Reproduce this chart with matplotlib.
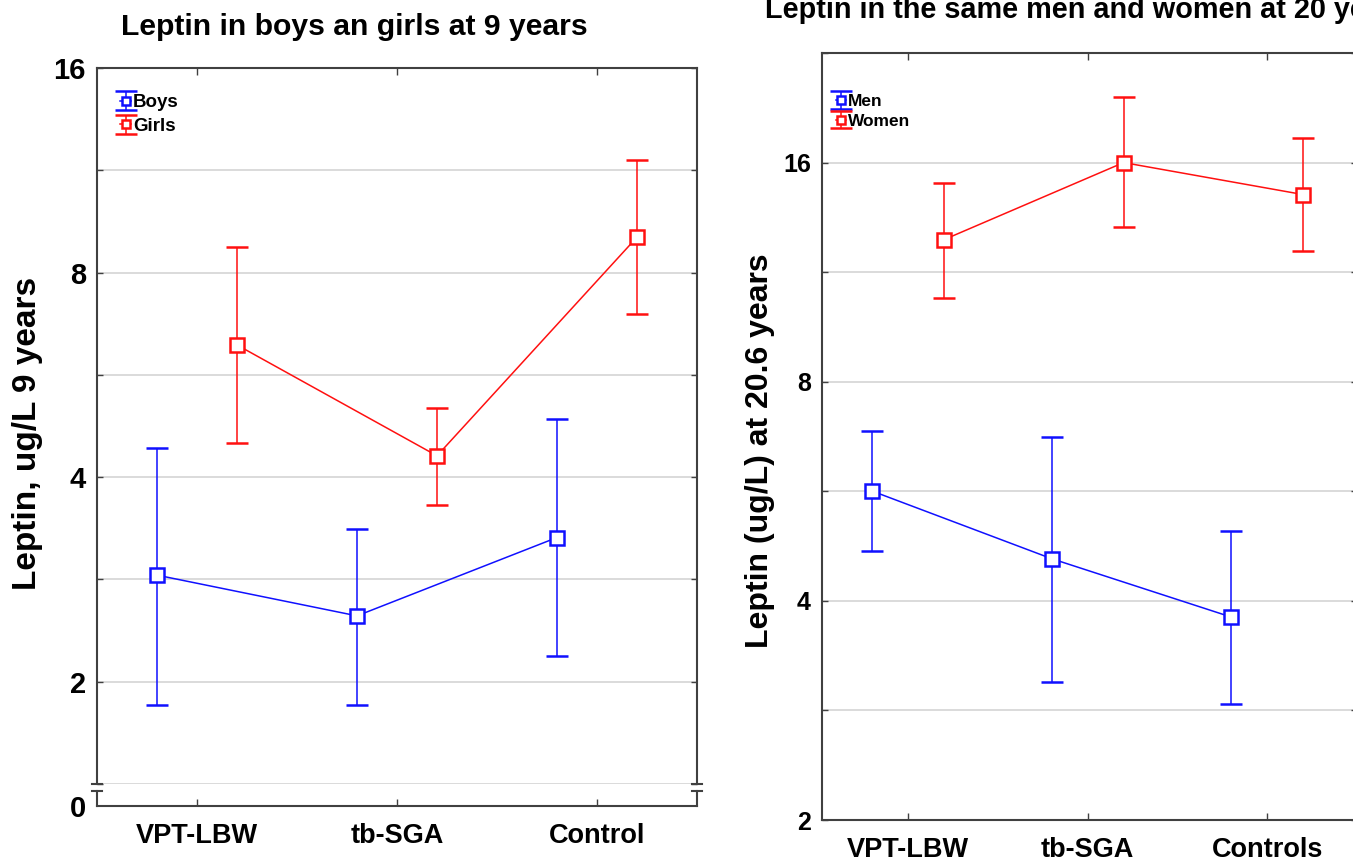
import numpy as np
import matplotlib.pyplot as plt
from matplotlib.lines import Line2D
from matplotlib.ticker import FixedLocator, NullFormatter

plt.rcParams['font.family'] = ['Liberation Sans', 'DejaVu Sans']
plt.rcParams['font.weight'] = 'bold'

# ---- data ----
groups_9 = ["VPT-LBW", "tb-SGA", "Control"]
boys_mean = [2.87, 2.50, 3.26]
boys_lo = [1.85, 1.85, 2.18]
boys_hi = [4.41, 3.35, 4.87]
girls_mean = [6.26, 4.30, 9.02]
girls_lo = [4.49, 3.64, 6.95]
girls_hi = [8.72, 5.05, 11.7]

groups_20 = ["VPT-LBW", "tb-SGA", "Controls"]
men_mean = [5.66, 4.57, 3.80]
men_lo = [4.69, 3.09, 2.89]
men_hi = [6.85, 6.72, 4.99]
women_mean = [12.54, 16.0, 14.46]
women_lo = [10.44, 13.07, 12.11]
women_hi = [15.02, 19.66, 17.32]

major_9 = [2, 4, 8, 16]
major_20 = [2, 4, 8, 16]

W, H = 1353, 861
SPINE = "#404040"
GRID = "#d4d4d4"
BLUE = "#1010ff"
RED = "#ff1010"


def box(l, t, r, b):
    return [l / W, 1 - b / H, (r - l) / W, (b - t) / H]


def series(ax, mean, lo, hi, offset, color, label):
    x = np.arange(len(mean)) + offset
    mean = np.array(mean)
    err = [mean - np.array(lo), np.array(hi) - mean]
    return ax.errorbar(x, mean, yerr=err, color=color, lw=1.1,
                       marker="s", ms=10, mfc="white", mec=color, mew=1.8,
                       ecolor=color, elinewidth=1.1, capsize=8, capthick=1.1,
                       label=label, zorder=3)


def style_log_axis(ax, majors, lo, hi, fs):
    ax.set_yscale("log", base=2)
    ax.set_ylim(lo, hi)
    ax.yaxis.set_major_locator(FixedLocator(majors))
    ax.set_yticklabels([str(m) for m in majors], fontsize=fs, fontweight="bold")
    minors = [m / np.sqrt(2) for m in majors] + [majors[-1] * np.sqrt(2)]
    ax.yaxis.set_minor_locator(FixedLocator(minors))
    ax.yaxis.set_minor_formatter(NullFormatter())
    ax.grid(True, axis="y", which="both", color=GRID, lw=1.2, zorder=0)
    ax.tick_params(axis="y", which="both", direction="in", left=True, right=True,
                   length=4, width=1, color=SPINE, pad=8)
    for sp in ax.spines.values():
        sp.set_color(SPINE)
        sp.set_linewidth(1.5)


def legend(ax, left_px, top_px, size, spacing, ax_l, ax_t, ax_w, ax_h):
    ax.legend(loc="upper left", frameon=False, markerscale=0.6,
              handlelength=0.6, handletextpad=0.1, labelspacing=spacing,
              borderaxespad=0, borderpad=0,
              bbox_to_anchor=((left_px - ax_l) / ax_w, 1 - (top_px - ax_t) / ax_h),
              prop={"weight": "bold", "size": size})


fig = plt.figure(figsize=(W / 100, H / 100), dpi=100)

# ---------------- left panel ----------------
ax1 = fig.add_axes(box(97, 68, 697, 784))
ax1b = fig.add_axes(box(97, 791, 697, 806), sharex=ax1)

series(ax1, boys_mean, boys_lo, boys_hi, -0.2, BLUE, "Boys")
series(ax1, girls_mean, girls_lo, girls_hi, 0.2, RED, "Girls")
style_log_axis(ax1, major_9, 2 / np.sqrt(2), 16, 21)
ax1.set_xlim(-0.5, 2.5)
ax1.set_xticks(range(3))
ax1.tick_params(axis="x", direction="in", top=True, bottom=False,
                labelbottom=False, length=5, width=1, color=SPINE)
ax1.spines["bottom"].set_visible(False)
ax1.set_ylabel("Leptin, ug/L 9 years", fontsize=24, fontweight="bold")
ax1.yaxis.set_label_coords(-0.09, 0.49)
legend(ax1, 120, 94, 13.5, 0.35, 97, 68, 600, 716)

ax1b.set_ylim(0, 1)
ax1b.set_yticks([0])
ax1b.set_yticklabels(["0"], fontsize=21, fontweight="bold")
ax1b.tick_params(axis="y", length=0, pad=8)
ax1b.set_xticks(range(3))
ax1b.set_xticklabels(groups_9, fontsize=19.5, fontweight="bold")
ax1b.tick_params(axis="x", direction="in", length=5, width=1, color=SPINE, pad=12)
ax1b.spines["top"].set_visible(False)
for sp in ["left", "right", "bottom"]:
    ax1b.spines[sp].set_color(SPINE)
    ax1b.spines[sp].set_linewidth(1.5)

# break marks
for xs in (97, 697):
    for ys in (784, 791):
        fig.add_artist(Line2D([(xs - 5) / W, (xs + 5) / W], [1 - ys / H, 1 - ys / H],
                              color=SPINE, lw=1.5))

fig.text(354 / W, 1 - 27 / H, "Leptin in boys an girls at 9 years",
         ha="center", va="center", fontsize=21.7, fontweight="bold")

# ---------------- right panel ----------------
ax2 = fig.add_axes(box(822, 53, 1357, 820))
series(ax2, men_mean, men_lo, men_hi, -0.2, BLUE, "Men")
series(ax2, women_mean, women_lo, women_hi, 0.2, RED, "Women")
style_log_axis(ax2, major_20, 2, 16 * np.sqrt(2), 18)
ax2.set_xlim(-0.48, 2.5)
ax2.set_xticks(range(3))
ax2.set_xticklabels(groups_20, fontsize=19.5, fontweight="bold")
ax2.tick_params(axis="x", direction="in", top=True, bottom=True,
                length=5, width=1, color=SPINE, pad=12)
ax2.set_ylabel("Leptin (ug/L) at 20.6 years", fontsize=23, fontweight="bold")
ax2.yaxis.set_label_coords(-0.088, 0.481)
legend(ax2, 836, 94, 12.5, 0.25, 822, 53, 535, 767)

fig.text(1087 / W, 1 - 18 / H, "Leptin in the same men and women at 20 years",
         ha="center", va="baseline", fontsize=20.8, fontweight="bold")

fig.savefig("out.png", dpi=100)
